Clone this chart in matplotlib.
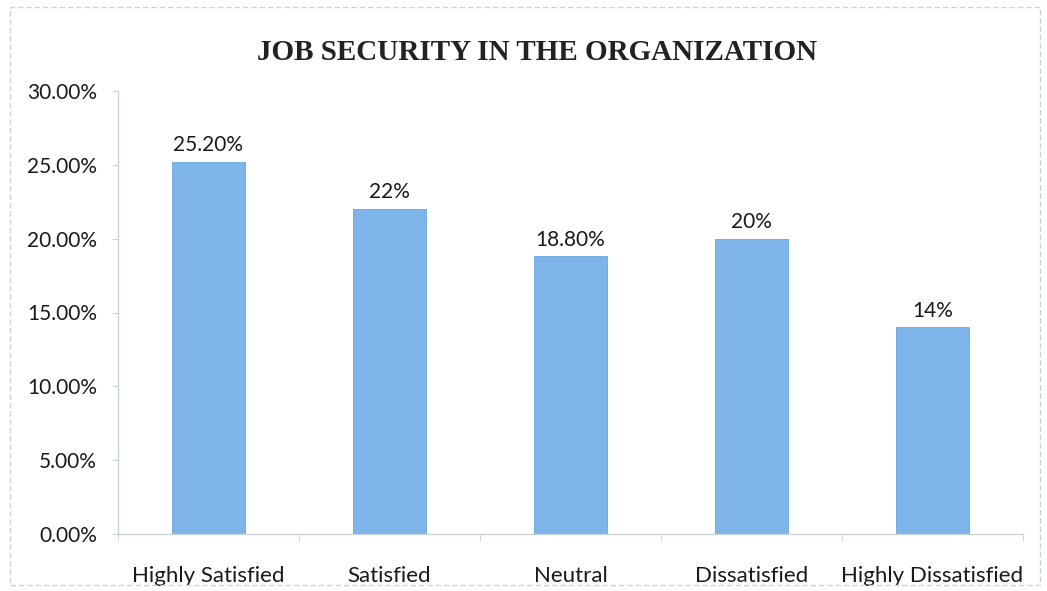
import matplotlib.pyplot as plt
from matplotlib.patches import Rectangle
from matplotlib.ticker import FuncFormatter

# Survey responses on job security
categories = ['Highly Satisfied', 'Satisfied', 'Neutral', 'Dissatisfied', 'Highly Dissatisfied']
shares = [25.2, 22.0, 18.8, 20.0, 14.0]
share_labels = ['25.20%', '22%', '18.80%', '20%', '14%']
y_ticks = [0, 5, 10, 15, 20, 25, 30]

bar_color = '#7db4ea'
line_color = '#c9d6cf'

plt.rcParams['font.family'] = ['Lato', 'DejaVu Sans']

fig = plt.figure(figsize=(10.47, 5.91), dpi=100)
ax = fig.add_axes([118 / 1047, 1 - 534 / 591, 905 / 1047, 443 / 591])

x = range(len(categories))
ax.bar(x, shares, width=0.4, color=bar_color, edgecolor='#6aa6df', linewidth=0.6)

for xi, v, lab in zip(x, shares, share_labels):
    ax.text(xi, v + 0.45, lab, ha='center', va='bottom', fontsize=15, color='#1a1a1a')

ax.set_xlim(-0.5, len(categories) - 0.5)
ax.set_ylim(0, 30)
ax.set_yticks(y_ticks)
ax.yaxis.set_major_formatter(FuncFormatter(lambda v, _: f'{v:.2f}%'))
ax.set_xticks(list(x))
ax.set_xticklabels(categories)
ax.set_xticks([i - 0.5 for i in range(len(categories) + 1)], minor=True)
ax.tick_params(axis='x', which='major', length=0, pad=23, labelsize=16, labelcolor='#1a1a1a')
ax.tick_params(axis='x', which='minor', length=5, color=line_color, direction='out')
ax.tick_params(axis='y', length=4, color=line_color, pad=11, labelsize=15, labelcolor='#1a1a1a')

for side in ['top', 'right']:
    ax.spines[side].set_visible(False)
for side in ['left', 'bottom']:
    ax.spines[side].set_color(line_color)
    ax.spines[side].set_linewidth(1.0)

fig.text(537 / 1047, 1 - 53 / 591, 'JOB SECURITY IN THE ORGANIZATION', ha='center', va='center',
         fontsize=21, fontweight='bold', family='Liberation Serif', color='#222222')

# chart area border
fig.patches.append(Rectangle((10 / 1047, 6 / 591), 1030 / 1047, 578 / 591, transform=fig.transFigure,
                             fill=False, edgecolor=line_color, linewidth=1.0, linestyle=(0, (4, 2))))

fig.savefig('out.png', dpi=100)
